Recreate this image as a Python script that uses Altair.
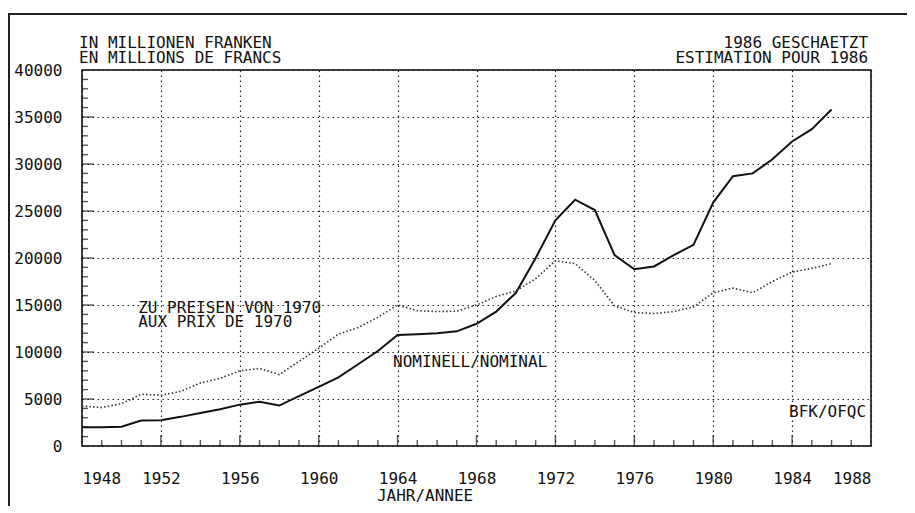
import altair as alt
import pandas as pd

years = list(range(1948, 1987))
nominal = [2000, 2000, 2050, 2700, 2750, 3100, 3500, 3900, 4400, 4700,
           4300, 5300, 6300, 7300, 8700, 10100, 11800, 11900, 12000, 12200,
           13000, 14300, 16300, 20000, 24000, 26200, 25100, 20300, 18800, 19100,
           20300, 21400, 25900, 28700, 29000, 30500, 32400, 33700, 35800]
real_1970 = [4250, 4100, 4500, 5500, 5400, 5800, 6700, 7200, 8000, 8250,
             7600, 9000, 10400, 11900, 12600, 13700, 15000, 14400, 14300, 14350,
             15000, 15900, 16500, 17800, 19700, 19400, 17600, 14900, 14200, 14100,
             14300, 14800, 16300, 16800, 16300, 17500, 18500, 18900, 19400]

x_ticks = list(range(1948, 1989, 4))
y_ticks = list(range(0, 40001, 5000))

FONT = "DejaVu Sans Mono"
FS = 16
W, H = 789, 376

df = pd.DataFrame({"year": years, "nominal": nominal, "real": real_1970})

xscale = alt.Scale(domain=[1948, 1988], nice=False, zero=False)
yscale = alt.Scale(domain=[0, 40000], nice=False)

x_axis = alt.Axis(values=x_ticks, format="d", title=None, grid=True, ticks=False,
                  tickSize=0, domain=False, labelPadding=24)
y_axis = alt.Axis(values=y_ticks, format="d", title=None, grid=True, ticks=False,
                  tickSize=0, domain=False, labelPadding=20)

base = alt.Chart(df)

nom_line = base.mark_line(color="#111111", strokeWidth=2).encode(
    x=alt.X("year:Q", scale=xscale, axis=x_axis),
    y=alt.Y("nominal:Q", scale=yscale, axis=y_axis),
)
real_line = base.mark_line(color="#333333", strokeWidth=1.6, strokeDash=[1.5, 2.2]).encode(
    x=alt.X("year:Q", scale=xscale),
    y=alt.Y("real:Q", scale=yscale),
)

# inward tick marks along the axes
all_years = list(range(1949, 1988))
xt_minor = pd.DataFrame({"yr": [y for y in all_years if y % 4 != 0]})
xt_major = pd.DataFrame({"yr": [y for y in all_years if y % 4 == 0]})
yvals = list(range(1000, 40000, 1000))
yt_minor = pd.DataFrame({"val": [v for v in yvals if v % 5000 != 0]})
yt_major = pd.DataFrame({"val": [v for v in yvals if v % 5000 == 0]})

tick_style = dict(color="#111111", thickness=1.4)
x_minor_marks = alt.Chart(xt_minor).mark_tick(orient="vertical", size=6, **tick_style).encode(
    x=alt.X("yr:Q", scale=xscale), y=alt.value(H - 3))
x_major_marks = alt.Chart(xt_major).mark_tick(orient="vertical", size=11, **tick_style).encode(
    x=alt.X("yr:Q", scale=xscale), y=alt.value(H - 5.5))
y_minor_marks = alt.Chart(yt_minor).mark_tick(orient="horizontal", size=6, **tick_style).encode(
    y=alt.Y("val:Q", scale=yscale), x=alt.value(3))
y_major_marks = alt.Chart(yt_major).mark_tick(orient="horizontal", size=12, **tick_style).encode(
    y=alt.Y("val:Q", scale=yscale), x=alt.value(6))

# annotations (positioned in data coordinates)
ann_left = pd.DataFrame({
    "text": ["IN MILLIONEN FRANKEN", "EN MILLIONS DE FRANCS",
             "ZU PREISEN VON 1970", "AUX PRIX DE 1970",
             "NOMINELL/NOMINAL", "JAHR/ANNEE"],
    "x": [1947.85, 1947.85, 1950.85, 1950.85, 1963.77, 1962.95],
    "y": [42340, 40750, 14150, 12650, 8400, -5900],
})
ann_right = pd.DataFrame({
    "text": ["1986 GESCHAETZT", "ESTIMATION POUR 1986", "BFK/OFQC"],
    "x": [1987.85, 1987.85, 1987.75],
    "y": [42340, 40750, 3080],
})
txt_left = alt.Chart(ann_left).mark_text(align="left", baseline="alphabetic", font=FONT,
                                         fontSize=FS, color="#111111").encode(
    x=alt.X("x:Q", scale=xscale), y=alt.Y("y:Q", scale=yscale), text="text:N")
txt_right = alt.Chart(ann_right).mark_text(align="right", baseline="alphabetic", font=FONT,
                                           fontSize=FS, color="#111111").encode(
    x=alt.X("x:Q", scale=xscale), y=alt.Y("y:Q", scale=yscale), text="text:N")

# outer page frame (decorative)
frame_top = alt.Chart(df).mark_rule(color="#222222", strokeWidth=1.5).encode(
    x=alt.value(-73.2), x2=alt.value(W + 40), y=alt.value(-56))
frame_left = alt.Chart(df).mark_rule(color="#222222", strokeWidth=1.5).encode(
    x=alt.value(-73.2), y=alt.value(-56), y2=alt.value(H + 70))

chart = alt.layer(
    frame_top, frame_left,
    nom_line, real_line,
    x_minor_marks, x_major_marks, y_minor_marks, y_major_marks,
    txt_left, txt_right,
).properties(
    width=W, height=H,
    padding={"left": 74, "top": 62, "right": 36, "bottom": 60},
    autosize=alt.AutoSizeParams(type="none"),
    background="white",
).configure_view(
    stroke="black", strokeWidth=1.5
).configure_axis(
    labelFont=FONT, labelFontSize=FS, labelColor="#111111",
    gridColor="#222222", gridDash=[1.5, 3.5], gridWidth=1.2, gridOpacity=1,
)

chart.save("out.html", embed_options={"renderer": "svg", "actions": False})
